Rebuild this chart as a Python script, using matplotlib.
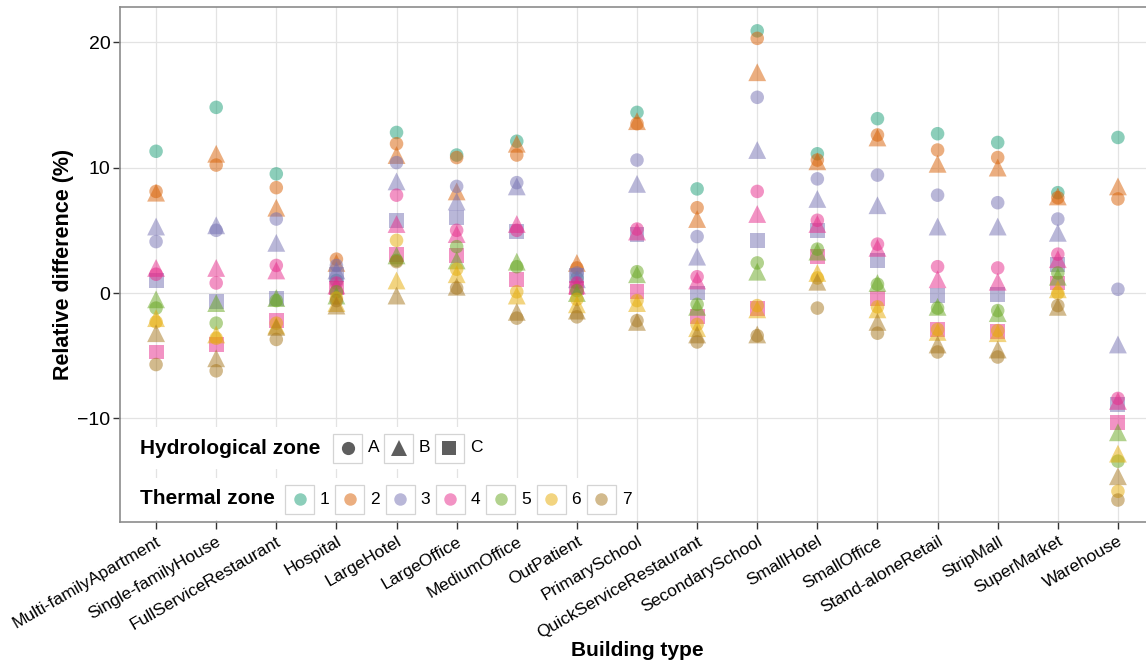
import matplotlib
matplotlib.use('Agg')
import numpy as np
import matplotlib.pyplot as plt
from matplotlib.patches import Rectangle
from matplotlib.lines import Line2D

plt.rcParams['font.family'] = ['Liberation Sans', 'DejaVu Sans']

buildings = ['Multi-familyApartment', 'Single-familyHouse', 'FullServiceRestaurant',
             'Hospital', 'LargeHotel', 'LargeOffice', 'MediumOffice', 'OutPatient',
             'PrimarySchool', 'QuickServiceRestaurant', 'SecondarySchool', 'SmallHotel',
             'SmallOffice', 'Stand-aloneRetail', 'StripMall', 'SuperMarket', 'Warehouse']

zone_colors = ['#1b9e77', '#d95f02', '#7570b3', '#e7298a', '#66a61e', '#e6ab02', '#a6761d']
hydro_labels = ['A', 'B', 'C']
hydro_markers = {'A': 'o', 'B': '^', 'C': 's'}
hydro_sizes = {'A': 95, 'B': 165, 'C': 115}

# relative difference (%) per climate zone, one value per building type
z1A = [11.3, 14.8, 9.5, 1.0, 12.8, 11.0, 12.1, 1.2, 14.4, 8.3, 20.9, 11.1, 13.9, 12.7, 12.0, 8.0, 12.4]
z2A = [8.1, 10.2, 8.4, 2.7, 11.9, 10.8, 11.0, 2.0, 13.5, 6.8, 20.3, 10.6, 12.6, 11.4, 10.8, 7.6, 7.5]
z2B = [8.0, 11.1, 6.8, 2.4, 11.0, 8.1, 11.9, 2.4, 13.7, 5.9, 17.6, 10.5, 12.4, 10.3, 10.0, 7.7, 8.5]
z3A = [4.1, 5.0, 5.9, 2.2, 10.4, 8.5, 8.8, 1.6, 10.6, 4.5, 15.6, 9.1, 9.4, 7.8, 7.2, 5.9, 0.3]
z3B = [5.3, 5.4, 4.0, 1.8, 8.9, 7.3, 8.5, 1.1, 8.7, 2.9, 11.4, 7.5, 7.0, 5.3, 5.3, 4.8, -4.1]
z3C = [1.0, -0.7, -0.4, 1.5, 5.8, 6.0, 4.9, 1.4, 4.7, 0.0, 4.2, 5.0, 2.6, -0.2, -0.1, 2.3, -8.9]
z4A = [1.5, 0.8, 2.2, 0.8, 7.8, 5.0, 5.0, 0.8, 5.1, 1.3, 8.1, 5.8, 3.9, 2.1, 2.0, 3.1, -8.4]
z4B = [2.0, 2.0, 1.8, 0.6, 5.5, 4.7, 5.5, 0.6, 4.9, 1.0, 6.3, 5.5, 3.6, 1.1, 0.9, 2.7, -8.6]
z4C = [-4.7, -4.1, -2.2, 0.4, 3.1, 3.0, 1.1, 0.4, 0.1, -1.9, -1.2, 2.9, -0.4, -2.9, -3.1, 0.8, -10.3]
z5A = [-1.2, -2.4, -0.6, 0.1, 2.6, 3.7, 2.1, 0.2, 1.7, -0.9, 2.4, 3.5, 0.7, -1.2, -1.4, 1.6, -13.4]
z5B = [-0.5, -0.8, -0.4, -0.2, 3.0, 2.6, 2.5, 0.0, 1.5, -1.1, 1.7, 3.3, 0.8, -1.1, -1.6, 1.3, -11.1]
z6A = [-2.3, -3.6, -2.4, -0.4, 4.2, 1.9, 0.1, -0.5, -0.6, -2.5, -1.0, 1.2, -1.1, -2.9, -3.0, 0.0, -15.8]
z6B = [-2.0, -3.3, -2.6, -0.8, 1.0, 1.5, -0.2, -0.9, -0.8, -2.8, -1.3, 1.6, -1.3, -3.1, -3.2, 0.3, -12.8]
z7A = [-5.7, -6.2, -3.7, -0.6, 2.5, 0.4, -2.0, -1.9, -2.2, -3.9, -3.4, -1.2, -3.2, -4.7, -5.1, -1.0, -16.5]
z7B = [-3.2, -5.2, -2.7, -1.0, -0.2, 0.5, -1.5, -1.4, -2.3, -3.3, -3.3, 0.9, -2.3, -4.1, -4.5, -1.1, -14.6]

series = [(1, 'A', z1A), (2, 'A', z2A), (2, 'B', z2B),
          (3, 'A', z3A), (3, 'B', z3B), (3, 'C', z3C),
          (4, 'A', z4A), (4, 'B', z4B), (4, 'C', z4C),
          (5, 'A', z5A), (5, 'B', z5B),
          (6, 'A', z6A), (6, 'B', z6B),
          (7, 'A', z7A), (7, 'B', z7B)]

W, H = 1146, 667
fig = plt.figure(figsize=(W / 100, H / 100), dpi=100)
ax = fig.add_axes([120 / W, 145 / H, 1034 / W, 515 / H])

x = np.arange(len(buildings))
for zone, hydro, vals in series:
    ax.scatter(x, vals, marker=hydro_markers[hydro], s=hydro_sizes[hydro],
               color=zone_colors[zone - 1], alpha=0.5, edgecolors='none', zorder=3)

ax.set_xlim(-0.6, 16.6)
ax.set_ylim(-18.25, 22.8)
ax.set_xticks(x)
ax.set_xticklabels(buildings, rotation=30, ha='right', rotation_mode='anchor', fontsize=12.5)
ax.set_yticks([-10, 0, 10, 20])
ax.tick_params(axis='y', labelsize=14, pad=2)
ax.tick_params(length=5, width=1, color='#333333', labelcolor='black')
ax.grid(True, color='#e3e3e3', linewidth=0.9, zorder=0)
ax.set_axisbelow(True)
for sp in ax.spines.values():
    sp.set_color('#8c8c8c')
    sp.set_linewidth(1.2)
ax.set_xlabel('Building type', fontsize=15, fontweight='bold', labelpad=0)
ax.set_ylabel('Relative difference (%)', fontsize=15.5, fontweight='bold', labelpad=2)


def fx(px):
    return px / W


def fy(py):
    return 1 - py / H


def legend_row(title, yc, x0, step, entries, right):
    # white strip behind one legend row, then gray-edged key boxes
    fig.add_artist(Rectangle((fx(124), fy(yc + 21)), (right - 124) / W, 42 / H,
                             transform=fig.transFigure, facecolor='white',
                             edgecolor='none', zorder=5))
    fig.text(fx(140), fy(yc), title, fontsize=15, fontweight='bold',
             va='center', ha='left', zorder=6)
    for i, (marker, color, ms, alpha, label) in enumerate(entries):
        bx = x0 + i * step
        fig.add_artist(Rectangle((fx(bx), fy(yc + 14.5)), 29 / W, 29 / H,
                                 transform=fig.transFigure, facecolor='white',
                                 edgecolor='#d4d4d4', linewidth=0.9, zorder=6))
        fig.add_artist(Line2D([fx(bx + 14.5)], [fy(yc)], marker=marker, markersize=ms,
                              color=color, alpha=alpha, linestyle='none',
                              markeredgewidth=0, transform=fig.transFigure, zorder=7))
        fig.text(fx(bx + 35), fy(yc), label, fontsize=12.5, va='center', ha='left', zorder=7)


hydro_entries = [(hydro_markers[h], '#555555', 11 if h == 'B' else 9.5, 0.95, h) for h in hydro_labels]
thermal_entries = [('o', c, 9, 0.5, str(i + 1)) for i, c in enumerate(zone_colors)]
legend_row('Hydrological zone', 448, 333, 51, hydro_entries, 492)
legend_row('Thermal zone', 499, 285, 50.3, thermal_entries, 636)

fig.savefig('out.png', dpi=100)
